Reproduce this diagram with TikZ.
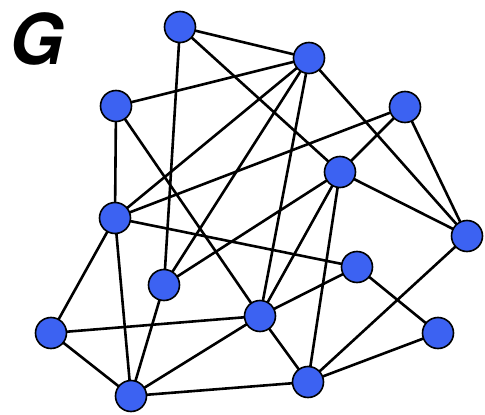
\documentclass[tikz,border=0pt]{standalone}
\usepackage{fontspec}
\setmainfont{TeX Gyre Heros}
\definecolor{nodeblue}{RGB}{60,98,242}
\tikzset{
  vert/.style={circle, minimum size=31pt, inner sep=0pt, fill=nodeblue, draw=black, line width=1.6pt},
  edge/.style={draw=black, line width=2.6pt}
}
\begin{document}
\begin{tikzpicture}[x=1pt,y=-1pt]
\useasboundingbox (0,0) rectangle (485,415);
\node[anchor=base west, inner sep=0pt] (title) at (9,64) {\fontsize{70}{70}\selectfont\bfseries\itshape G};
\coordinate (A) at (180,27);
\coordinate (B) at (309,58);
\coordinate (C) at (116,106);
\coordinate (D) at (405,107);
\coordinate (E) at (340,172);
\coordinate (F) at (115,218);
\coordinate (G) at (467,236);
\coordinate (H) at (357,267);
\coordinate (I) at (164,285);
\coordinate (J) at (260,316);
\coordinate (K) at (51,333);
\coordinate (L) at (438,333);
\coordinate (M) at (131,396);
\coordinate (N) at (308,382);
\foreach \a/\b in {A/B,A/E,A/I,B/C,B/F,B/I,B/J,B/G,C/F,C/J,D/F,D/E,D/G,E/G,E/I,E/J,E/N,F/H,F/K,F/M,G/N,H/J,H/L,I/M,J/K,J/M,J/N,K/M,L/N,M/N}
  \draw[edge] (\a) -- (\b);
\foreach \v in {A,B,C,D,E,F,G,H,I,J,K,L,M,N}
  \node[vert] (n\v) at (\v) {};
\end{tikzpicture}
\end{document}
